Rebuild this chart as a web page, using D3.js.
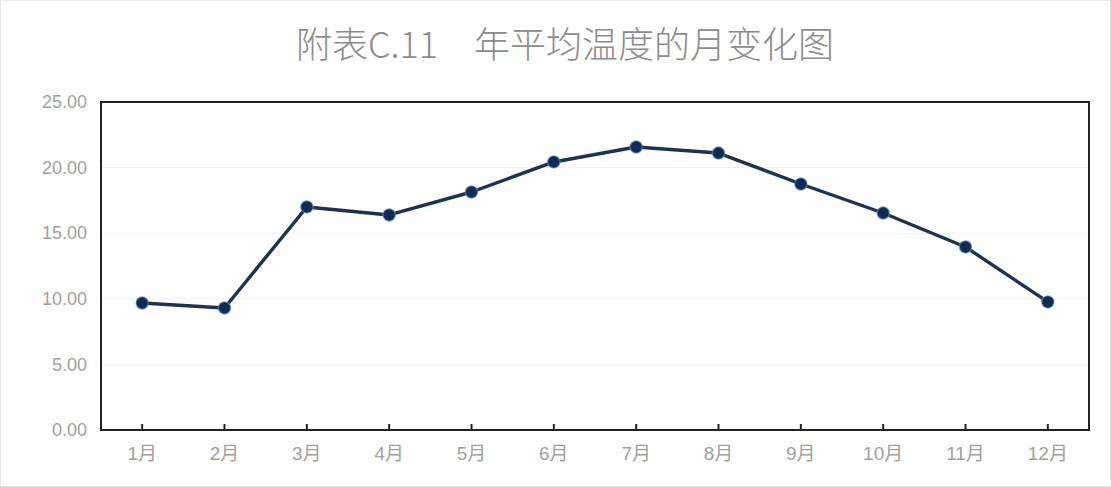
<!DOCTYPE html>
<html><head><meta charset="utf-8">
<script src="https://cdn.jsdelivr.net/npm/d3@7"></script>
<style>body{margin:0;background:#fff}svg{display:block}</style>
</head><body>
<svg id="c" width="1111" height="487"></svg>
<script>
const categories = ["1月","2月","3月","4月","5月","6月","7月","8月","9月","10月","11月","12月"];
const temps = [9.68, 9.30, 17.0, 16.39, 18.14, 20.43, 21.57, 21.11, 18.75, 16.54, 13.95, 9.76];
const yTicks = [0, 5, 10, 15, 20, 25];
const title = "附表C.11　年平均温度的月变化图";

const svg = d3.select("#c");
const font = "'Noto Sans CJK SC', 'Noto Sans', sans-serif";
const tickFont = "'Liberation Sans', 'Noto Sans CJK SC', sans-serif";
svg.append("rect").attr("x",0.5).attr("y",0.5).attr("width",1110).attr("height",486)
  .attr("fill","#fff").attr("stroke","#e6e6e6");

const m = {l:101, r:1089, t:102, b:430};
const x = d3.scaleBand().domain(categories).range([m.l, m.r]);
const y = d3.scaleLinear().domain([0,25]).range([m.b, m.t]);

svg.append("text").attr("x",565).attr("y",58).attr("text-anchor","middle")
  .attr("font-family",font).attr("font-weight",300).attr("font-size",36).attr("fill","#8c8c8c").text(title);

// gridlines
svg.append("g").selectAll("line").data(yTicks.filter(d=>d>0&&d<25)).join("line")
  .attr("x1",m.l).attr("x2",m.r).attr("y1",d=>y(d)).attr("y2",d=>y(d))
  .attr("stroke","#f0f0f0").attr("stroke-width",1);

// y axis labels
const ya = svg.append("g").attr("transform",`translate(${m.l},0)`)
  .call(d3.axisLeft(y).tickValues(yTicks).tickFormat(d=>d.toFixed(2)).tickSize(0).tickPadding(14));
ya.select(".domain").remove();
ya.selectAll("text").attr("font-family",tickFont).attr("font-size",18).attr("fill","#a0a0a0");

// x axis
const xa = svg.append("g").attr("transform",`translate(0,${m.b})`)
  .call(d3.axisBottom(x).tickSize(-6).tickPadding(17));
xa.select(".domain").remove();
xa.selectAll("line").attr("stroke","#222").attr("stroke-width",2);
xa.selectAll("text").attr("font-family",tickFont).attr("font-size",19).attr("fill","#a0a0a0");

// frame
svg.append("rect").attr("x",m.l).attr("y",m.t).attr("width",m.r-m.l).attr("height",m.b-m.t)
  .attr("fill","none").attr("stroke","#222").attr("stroke-width",2);

const cx = d => x(d) + x.bandwidth()/2;
const line = d3.line().x((d,i)=>cx(categories[i])).y(d=>y(d));
svg.append("path").datum(temps).attr("d",line).attr("fill","none")
  .attr("stroke","#1c3350").attr("stroke-width",3.4).attr("stroke-linejoin","round");

svg.append("g").selectAll("circle").data(temps).join("circle")
  .attr("cx",(d,i)=>cx(categories[i])).attr("cy",d=>y(d)).attr("r",6.2)
  .attr("fill","#0d2c56").attr("stroke","#7f9cc0").attr("stroke-opacity",0.5).attr("stroke-width",1.5);
</script>
</body></html>
